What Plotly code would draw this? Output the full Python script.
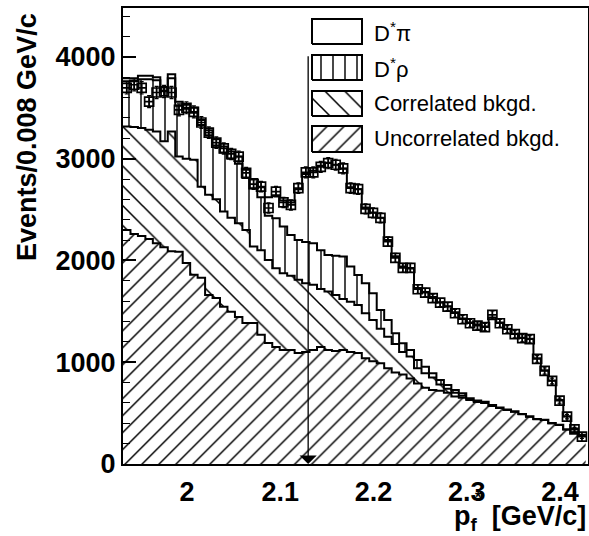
import numpy as np
import plotly.graph_objects as go

# ---------------- data ----------------
bin_start = 1.9315
bin_width = 0.008

data_counts = [3696, 3726, 3696, 3560, 3650, 3660, 3650, 3480, 3500, 3460,
               3355, 3255, 3157, 3100, 3046, 3020, 2860, 2750, 2725, 2515,
               2675, 2570, 2545, 2710, 2865, 2865, 2920, 2955, 2940, 2905,
               2710, 2700, 2507, 2467, 2418, 2185, 2025, 1927, 1927, 1717,
               1684, 1629, 1586, 1546, 1481, 1422, 1383, 1360, 1345, 1465,
               1383, 1324, 1275, 1236, 1226, 1032, 914, 816, 622, 465,
               341, 268]

# stacked MC: top of D*pi (total)
mc_total = [3790, 3790, 3815, 3815, 3800, 3700, 3830, 3560, 3530, 3500,
            3380, 3280, 3190, 3120, 3070, 3020, 2890, 2800, 2720, 2620,
            2640, 2590, 2570, 2700, 2850, 2880, 2930, 2960, 2940, 2900,
            2720, 2700, 2520, 2470, 2420, 2200, 2040, 1940, 1920, 1730,
            1690, 1640, 1590, 1550, 1490, 1430, 1390, 1370, 1350, 1440,
            1390, 1330, 1280, 1240, 1230, 1040, 920, 820, 630, 470,
            350, 275]

# top of D*rho layer
dstar_rho_top = [3760, 3760, 3780, 3780, 3770, 3670, 3790, 3520, 3490, 3450,
                 3330, 3230, 3130, 3060, 3000, 2950, 2810, 2710, 2620, 2440,
                 2415, 2333, 2250, 2201, 2180, 2170, 2100, 2054, 2045, 2038,
                 1940, 1858, 1776, 1678, 1514, 1415, 1284, 1186, 1120, 1022,
                 956, 891, 825, 776, 727, 694, 645, 625, 612, 580,
                 555, 535, 518, 492, 468, 442, 434, 402, 385, 342,
                 312, 287]

# top of correlated background layer
corr_top = [3316, 3310, 3300, 3285, 3266, 3170, 3266, 3020, 3000, 2990,
            2725, 2645, 2600, 2480, 2420, 2365, 2300, 2136, 2100, 2005,
            1924, 1875, 1850, 1809, 1776, 1760, 1720, 1694, 1661, 1620,
            1595, 1563, 1480, 1415, 1330, 1251, 1180, 1100, 1055, 940,
            891, 850, 780, 740, 700, 670, 640, 622, 605, 575,
            552, 532, 516, 491, 466, 441, 433, 401, 384, 341,
            311, 286]

# uncorrelated background
uncorr = [2300, 2260, 2240, 2210, 2170, 2130, 2090, 2085, 1975, 1860,
          1830, 1660, 1630, 1545, 1495, 1445, 1385, 1385, 1270, 1190,
          1150, 1120, 1120, 1090, 1100, 1120, 1150, 1120, 1110, 1120,
          1100, 1090, 1040, 1010, 990, 940, 900, 880, 840, 790,
          750, 727, 720, 700, 662, 650, 629, 610, 600, 570,
          550, 530, 514, 490, 465, 440, 432, 400, 383, 340,
          310, 285]

legend_labels = ["D<sup>*</sup>π", "D<sup>*</sup>ρ", "Correlated bkgd.", "Uncorrelated bkgd."]
y_tick_vals = [0, 1000, 2000, 3000, 4000]
x_tick_vals = [2.0, 2.1, 2.2, 2.3, 2.4]
x_tick_text = ["2", "2.1", "2.2", "2.3", "2.4"]
arrow_x = 2.13
arrow_top = 4020
y_title = "Events/0.008 GeV/c"

# ---------------- figure ----------------
n = len(data_counts)
edges = bin_start + bin_width * np.arange(n + 1)
centers = edges[:-1] + bin_width / 2


def step(vals):
    return list(edges), list(vals) + [vals[-1]]


LW = 2
fig = go.Figure()

pat_unc = dict(shape="/", size=12, solidity=0.12, fgcolor="black", bgcolor="white", fgopacity=1)
pat_cor = dict(shape="\\", size=14, solidity=0.11, fgcolor="black", bgcolor="white", fgopacity=1)
pat_rho = dict(shape="|", size=12, solidity=0.12, fgcolor="black", bgcolor="white", fgopacity=1)

x, y = step(uncorr)
fig.add_trace(go.Scatter(x=x, y=y, mode="lines", line=dict(shape="hv", color="black", width=LW),
                         fill="tozeroy", fillcolor="white", fillpattern=pat_unc, showlegend=False))
x, y = step(corr_top)
fig.add_trace(go.Scatter(x=x, y=y, mode="lines", line=dict(shape="hv", color="black", width=LW),
                         fill="tonexty", fillcolor="white", fillpattern=pat_cor, showlegend=False))
x, y = step(dstar_rho_top)
fig.add_trace(go.Scatter(x=x, y=y, mode="lines", line=dict(shape="hv", color="black", width=LW),
                         fill="tonexty", fillcolor="white", fillpattern=pat_rho, showlegend=False))
x, y = step(mc_total)
fig.add_trace(go.Scatter(x=x, y=y, mode="lines", line=dict(shape="hv", color="black", width=LW),
                         fill="tonexty", fillcolor="white", showlegend=False))

fig.add_trace(go.Scatter(
    x=centers, y=data_counts, mode="markers",
    marker=dict(symbol="square-cross-open", size=9, color="black", line=dict(width=1.7, color="black")),
    error_y=dict(type="data", array=np.sqrt(np.array(data_counts)), color="black", thickness=1.2, width=2),
    showlegend=False))

# ---------------- custom legend (boxes in an overlay frame) ----------------
L, R, T, B = 123, 588, 8, 464
W, H = R - L, B - T


def fx(px):
    return (px - L) / W


def fy(py):
    return (B - py) / H


box_x0, box_x1 = fx(312), fx(362)
rows = [(19, 44), (55, 80), (91, 116), (126, 152)]
pats = [None, pat_rho, pat_cor, pat_unc]
for (t, b), p, lab in zip(rows, pats, legend_labels):
    kw = dict(fillpattern=p) if p else {}
    fig.add_trace(go.Scatter(
        x=[box_x0, box_x1, box_x1, box_x0, box_x0],
        y=[fy(b), fy(b), fy(t), fy(t), fy(b)],
        mode="lines", line=dict(color="black", width=2), fill="toself", fillcolor="white",
        xaxis="x2", yaxis="y2", showlegend=False, hoverinfo="skip", **kw))
    fig.add_annotation(x=fx(372), y=fy((t + b) / 2), xref="paper", yref="paper",
                       text=lab, showarrow=False, xanchor="left", yanchor="middle",
                       font=dict(size=22, color="black", family="Liberation Sans"))

# ---------------- arrow ----------------
fig.add_annotation(x=arrow_x, y=0, ax=arrow_x, ay=arrow_top, xref="x", yref="y",
                   axref="x", ayref="y", showarrow=True, arrowhead=1, arrowsize=2.2,
                   arrowwidth=1.3, arrowcolor="black", text="")

# ---------------- axis titles ----------------
fig.add_annotation(x=fx(27), y=fy(137), xref="paper", yref="paper", text=y_title,
                   textangle=-90, showarrow=False, xanchor="center", yanchor="middle",
                   font=dict(size=27, color="black", family="Liberation Sans", weight="bold"))
fig.add_annotation(x=1.0, y=fy(518), xref="paper", yref="paper",
                   text="p<sub>f</sub>  [GeV/c]", showarrow=False, xanchor="right", yanchor="middle",
                   font=dict(size=27, color="black", family="Liberation Sans", weight="bold"))
fig.add_annotation(x=fx(478), y=fy(497), xref="paper", yref="paper", text="*",
                   showarrow=False, xanchor="center", yanchor="middle",
                   font=dict(size=16, color="black", family="Liberation Sans", weight="bold"))

fig.update_layout(
    width=589, height=536,
    margin=dict(l=L, r=589 - R, t=T, b=536 - B, autoexpand=False),
    paper_bgcolor="white", plot_bgcolor="white",
    font=dict(family="Liberation Sans", color="black"),
    xaxis=dict(range=[bin_start, 2.43], tickvals=x_tick_vals, ticktext=x_tick_text,
               ticks="", showgrid=False, zeroline=False, showline=True, linewidth=2,
               linecolor="black", mirror=True, ticklabelstandoff=3, automargin=False,
               tickfont=dict(size=27, weight="bold", family="Liberation Sans")),
    yaxis=dict(range=[0, 4480], tickvals=y_tick_vals, ticks="inside", ticklen=13, tickwidth=1.5,
               tickcolor="black", showgrid=False, zeroline=False, showline=True, linewidth=2,
               linecolor="black", mirror=True, ticklabelstandoff=0, automargin=False,
               minor=dict(dtick=200, ticks="inside", ticklen=7, tickwidth=1.2, tickcolor="black", showgrid=False),
               tickfont=dict(size=27, weight="bold", family="Liberation Sans")),
    xaxis2=dict(overlaying="x", range=[0, 1], visible=False, anchor="y2"),
    yaxis2=dict(overlaying="y", range=[0, 1], visible=False, anchor="x2"),
)

fig.write_html("out.html", config={"displayModeBar": False},
               post_script="document.body.style.margin='0px';document.body.style.overflow='hidden';")
